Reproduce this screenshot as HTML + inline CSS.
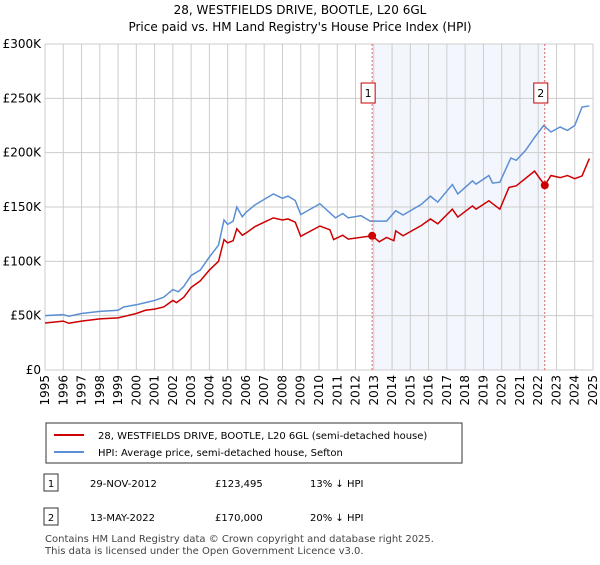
<!DOCTYPE html>
<html><head><meta charset="utf-8"><style>
body{margin:0;background:#fff;font-family:"Liberation Sans","DejaVu Sans",sans-serif;color:#222}
svg text{font-family:"DejaVu Sans","Liberation Sans",sans-serif}
</style></head><body>
<svg id="c" width="600" height="560" xmlns="http://www.w3.org/2000/svg">
<text x="300" y="14" text-anchor="middle" font-size="12">28, WESTFIELDS DRIVE, BOOTLE, L20 6GL</text>
<text x="300" y="31" text-anchor="middle" font-size="12">Price paid vs. HM Land Registry's House Price Index (HPI)</text>
<g id="grid"></g><g id="series"></g>
<rect x="46" y="423" width="416" height="40" fill="#fff" stroke="#333"/>
<line x1="54" y1="435" x2="84" y2="435" stroke="#cc0000" stroke-width="2"/>
<text x="98" y="439" font-size="10">28, WESTFIELDS DRIVE, BOOTLE, L20 6GL (semi-detached house)</text>
<line x1="54" y1="452" x2="84" y2="452" stroke="#5b8fd4" stroke-width="2"/>
<text x="98" y="456" font-size="10">HPI: Average price, semi-detached house, Sefton</text>
<g>
<rect x="44" y="474" width="14" height="17" fill="#fff" stroke="#333"/><text x="51" y="487" text-anchor="middle" font-size="10">1</text>
<text x="90" y="487" font-size="10">29-NOV-2012</text><text x="215" y="487" font-size="10">£123,495</text><text x="310" y="487" font-size="10">13% ↓ HPI</text></g>
<g>
<rect x="44" y="508" width="14" height="17" fill="#fff" stroke="#333"/><text x="51" y="521" text-anchor="middle" font-size="10">2</text>
<text x="90" y="521" font-size="10">13-MAY-2022</text><text x="215" y="521" font-size="10">£170,000</text><text x="310" y="521" font-size="10">20% ↓ HPI</text></g>
<text x="45" y="542" font-size="10" fill="#444">Contains HM Land Registry data © Crown copyright and database right 2025.</text>
<text x="45" y="554" font-size="10" fill="#444">This data is licensed under the Open Government Licence v3.0.</text>
</svg>
<script>
const hpiYears=[1995,1996,1996.3,1997,1998,1999,1999.3,2000,2000.5,2001,2001.5,2002,2002.3,2002.6,2003,2003.5,2004,2004.5,2004.8,2005,2005.3,2005.5,2005.8,2006,2006.5,2007,2007.5,2008,2008.3,2008.7,2009,2010.05,2010.9,2011.3,2011.6,2012.3,2012.8,2013.7,2014.2,2014.6,2015.6,2016.1,2016.5,2017.3,2017.6,2018.4,2018.6,2019.3,2019.5,2019.9,2020.5,2020.8,2021.3,2021.8,2022.3,2022.7,2023.2,2023.6,2024.0,2024.4,2024.8];
const hpiValues=[50,51,49.5,52,54,55,58,60,62,64,67,74,72,77,87,92,104,115,138,134,137,150,141,145,152,157,162,158,160,156,143,153,140,144,140,142,137,137,146.6,142.6,152.4,160,154.5,170.7,162,174,171,179,172,172.8,195,193,202,214,225,219,223.6,220.5,225,242,243];
const priceYears=[1995,1996,1996.3,1997,1998,1999,2000,2000.5,2001,2001.5,2002,2002.2,2002.6,2003,2003.5,2004,2004.5,2004.8,2005,2005.3,2005.5,2005.8,2006,2006.5,2007,2007.5,2008,2008.3,2008.7,2009,2010.05,2010.6,2010.8,2011.3,2011.6,2012.91,2013.3,2013.7,2014.1,2014.2,2014.6,2015.6,2016.1,2016.5,2017.3,2017.6,2018.4,2018.6,2019.3,2019.9,2020.4,2020.8,2021.8,2022.36,2022.7,2023.2,2023.6,2024.0,2024.4,2024.8];
const priceValues=[43.3,45,43,45,47,48,52,55,56,58,64,62,67,76,82,92,100,120,117,119,130,124,126,132,136,140,138,139,136,123,132.5,129,120,124,120.5,123.5,118,122,119,128,123.5,133,139,134.6,148,140.7,151,148,155.7,148,168,169.5,183,170,179,177,179,176,178.6,194.6];
const saleYears=[2012.91,2022.36];
const saleValues=[123.495,170];
const yTicks=[0,50,100,150,200,250,300];
const yTickLabels=["£0","£50K","£100K","£150K","£200K","£250K","£300K"];
const xTicks=[1995,1996,1997,1998,1999,2000,2001,2002,2003,2004,2005,2006,2007,2008,2009,2010,2011,2012,2013,2014,2015,2016,2017,2018,2019,2020,2021,2022,2023,2024,2025];
const X0=45,X1=593,Y0=370,Y1=44;
const xs=y=>X0+(y-1995)/30*(X1-X0);
const ys=v=>Y0-v/300*(Y0-Y1);
const NS="http://www.w3.org/2000/svg";
function mk(t,a,p){const e=document.createElementNS(NS,t);for(const k in a)e.setAttribute(k,a[k]);p.appendChild(e);return e;}
const g=document.getElementById('grid'),s=document.getElementById('series');
const sh=mk('rect',{x:xs(saleYears[0]),y:Y1,width:xs(saleYears[1])-xs(saleYears[0]),height:Y0-Y1,fill:'#eef3fc',opacity:0.7},g);


yTicks.forEach((t,i)=>{
 const l=mk('line',{x1:X0,x2:X1,y1:ys(t),y2:ys(t),stroke:'#cccccc'},g);
 
 
 const tx=mk('text',{x:X0-4,y:ys(t)+4,'text-anchor':'end','font-size':12},g);tx.textContent=yTickLabels[i];
 
 
});
xTicks.forEach(t=>{
 const l=mk('line',{x1:xs(t),x2:xs(t),y1:Y1,y2:Y0,stroke:'#cccccc'},g);
 
 
 const tx=mk('text',{x:0,y:0,'text-anchor':'end','font-size':12,transform:`translate(${xs(t)+4},${Y0+5}) rotate(-90)`},g);tx.textContent=t;
 
 
});
function line(xa,va,col,name){const p=mk('polyline',{points:xa.map((x,i)=>xs(x)+','+ys(va[i])).join(' '),fill:'none',stroke:col,'stroke-width':1.5},s);
 
 }
line(hpiYears,hpiValues,'#5b8fd4','hpi-line');
line(priceYears,priceValues,'#cc0000','price-line');
saleYears.forEach((y,i)=>{
 const l=mk('line',{x1:xs(y),x2:xs(y),y1:Y1,y2:Y0,stroke:'#e06060','stroke-dasharray':'2,2'},s);
 
 
 const c=mk('circle',{cx:xs(y),cy:ys(saleValues[i]),r:4,fill:'#cc0000'},s);
 
 
 const b=mk('rect',{x:xs(y)-11,y:83,width:14,height:20,fill:'#fff',stroke:'#cc0000'},s);
 
 
 const t=mk('text',{x:xs(y)-4,y:97,'text-anchor':'middle','font-size':11},s);t.textContent=i+1;
 
 
});
</script>
</body></html>
